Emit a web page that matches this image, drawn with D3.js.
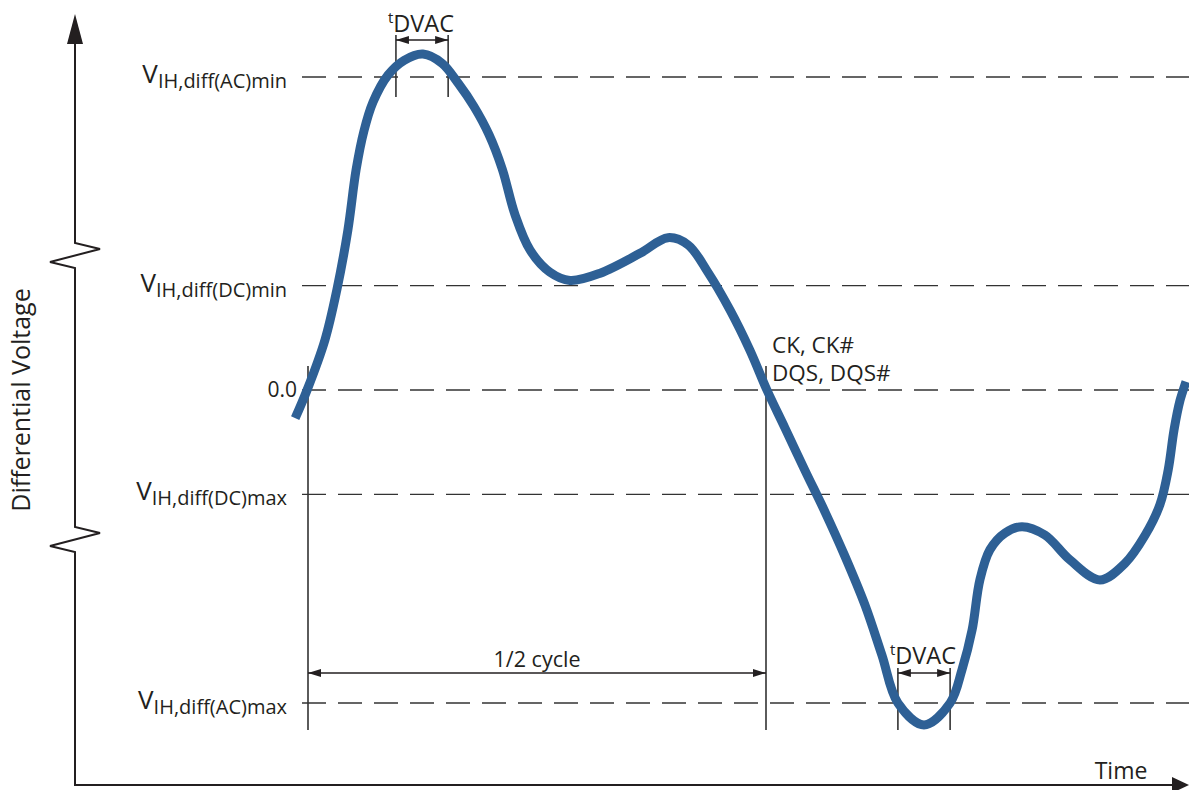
<!DOCTYPE html>
<html>
<head>
<meta charset="utf-8">
<script src="https://cdn.jsdelivr.net/npm/d3@7"></script>
<style>
  html, body { margin: 0; padding: 0; background: #fff; }
  text { font-family: "Open Sans", "Noto Sans", sans-serif; fill: #231f20; }
</style>
</head>
<body>
<div id="chart"></div>
<script>
// reference levels (differential voltage, arbitrary units)
const levelValues = [3, 1, 0, -1, -3];
const levelMain = ["V", "V", "0.0", "V", "V"];
const levelSub = ["IH,diff(AC)min", "IH,diff(DC)min", "", "IH,diff(DC)max", "IH,diff(AC)max"];

// signal waveform, time units (half cycle = 100)
const timeVals = [-2.8, -0.2, 3.7, 6.3, 8.7, 10.5, 12.2, 14.2, 17.5, 21.0, 25.1, 29.3, 32.8, 36.2,
  39.5, 42.4, 45.2, 48.5, 52.8, 57.2, 63.8, 72.5, 78.6, 83.0, 87.3, 92.1, 96.5, 100.2,
  104.1, 108.5, 112.9, 117.2, 121.6, 125.3, 128.8, 134.5, 140.2, 142.8, 145.0, 146.7,
  148.9, 152.2, 155.9, 160.9, 166.4, 172.9, 178.4, 182.8, 186.0, 187.8, 189.1, 190.4, 191.7];
const voltVals = [-0.27, 0, 0.48, 0.96, 1.53, 2.11, 2.48, 2.76, 3.02, 3.16, 3.22, 3.13, 2.94, 2.72,
  2.45, 2.12, 1.68, 1.34, 1.13, 1.05, 1.12, 1.31, 1.46, 1.39, 1.13, 0.77, 0.38, 0,
  -0.36, -0.77, -1.17, -1.59, -2.06, -2.54, -3.0, -3.21, -3.0, -2.68, -2.30, -1.82,
  -1.53, -1.37, -1.31, -1.39, -1.63, -1.82, -1.66, -1.39, -1.10, -0.77, -0.38, -0.10, 0.08];

// timing markers
const halfCycle = [0, 100];
const tdvacTop = [19.2, 30.6];
const tdvacBottom = [128.8, 140.2];

const W = 1189, H = 790;
const axisX = 75, axisY = 785;

const x = d3.scaleLinear().domain([0, 100]).range([308, 766]);
const y = d3.scaleLinear().domain([-3, 3]).range([703, 77]);

const svg = d3.select("#chart").append("svg")
  .attr("width", W)
  .attr("height", H);

const defs = svg.append("defs");
defs.append("marker")
  .attr("id", "arr")
  .attr("markerUnits", "userSpaceOnUse")
  .attr("markerWidth", 14).attr("markerHeight", 10)
  .attr("refX", 13).attr("refY", 4)
  .attr("orient", "auto-start-reverse")
  .append("path")
  .attr("d", "M0,0 L13,4 L0,8 Z")
  .attr("fill", "#231f20");

// dashed reference lines
svg.append("g").selectAll("line")
  .data(levelValues)
  .enter().append("line")
    .attr("x1", 302).attr("x2", W)
    .attr("y1", d => y(d)).attr("y2", d => y(d))
    .attr("stroke", "#333")
    .attr("stroke-width", 1.4)
    .attr("stroke-dasharray", "24,12");

// level labels
const lab = svg.append("g").selectAll("text")
  .data(levelValues)
  .enter().append("text")
    .attr("x", (d, i) => levelSub[i] ? 287 : 297)
    .attr("y", d => y(d))
    .attr("text-anchor", "end");
lab.append("tspan")
  .attr("font-size", (d, i) => levelSub[i] ? "26px" : "21px")
  .attr("dy", (d, i) => levelSub[i] ? 6 : 7)
  .text((d, i) => levelMain[i]);
lab.filter((d, i) => levelSub[i])
  .append("tspan")
  .attr("font-size", "20px")
  .attr("dy", 5)
  .text(d => levelSub[levelValues.indexOf(d)]);

// half-cycle vertical markers
svg.append("g").selectAll("line")
  .data(halfCycle)
  .enter().append("line")
    .attr("x1", d => x(d)).attr("x2", d => x(d))
    .attr("y1", 366).attr("y2", 730)
    .attr("stroke", "#333").attr("stroke-width", 1.6);

svg.append("line")
  .attr("x1", x(halfCycle[0])).attr("x2", x(halfCycle[1]))
  .attr("y1", 673).attr("y2", 673)
  .attr("stroke", "#231f20").attr("stroke-width", 1.4)
  .attr("marker-start", "url(#arr)")
  .attr("marker-end", "url(#arr)");

svg.append("text")
  .attr("x", (x(halfCycle[0]) + x(halfCycle[1])) / 2)
  .attr("y", 667)
  .attr("text-anchor", "middle")
  .attr("font-size", "21.5px")
  .text("1/2 cycle");

// tDVAC markers
function tdvac(pair, y1, y2, arrowY, textY) {
  const g = svg.append("g");
  g.selectAll("line.tick")
    .data(pair)
    .enter().append("line")
      .attr("class", "tick")
      .attr("x1", d => x(d)).attr("x2", d => x(d))
      .attr("y1", y1).attr("y2", y2)
      .attr("stroke", "#333").attr("stroke-width", 1.6);
  g.append("line")
    .attr("x1", x(pair[0])).attr("x2", x(pair[1]))
    .attr("y1", arrowY).attr("y2", arrowY)
    .attr("stroke", "#231f20").attr("stroke-width", 1.4)
    .attr("marker-start", "url(#arr)")
    .attr("marker-end", "url(#arr)");
  const t = g.append("text")
    .attr("x", x(pair[0]) - 8)
    .attr("y", textY);
  t.append("tspan").attr("font-size", "15px").attr("dy", -9).text("t");
  t.append("tspan").attr("font-size", "23.5px").attr("dy", 9).text("DVAC");
}
tdvac(tdvacTop, 35, 97, 40, 32);
tdvac(tdvacBottom, 668, 730, 673, 664);

// waveform
const line = d3.line()
  .x(d => x(d[0]))
  .y(d => y(d[1]))
  .curve(d3.curveCatmullRom.alpha(0.5));

svg.append("path")
  .datum(timeVals.map((t, i) => [t, voltVals[i]]))
  .attr("d", line)
  .attr("fill", "none")
  .attr("stroke", "#2e6095")
  .attr("stroke-width", 9)
  .attr("stroke-linejoin", "round");

// signal names
const sig = svg.append("text")
  .attr("font-size", "22.5px");
sig.append("tspan").attr("x", 772).attr("y", 353).text("CK, CK#");
sig.append("tspan").attr("x", 772).attr("y", 381).text("DQS, DQS#");

// axes with break marks
svg.append("path")
  .attr("d", `M${axisX},40 L${axisX},243 L100,249 L50,262 L${axisX},268 L${axisX},527 L100,533 L50,546 L${axisX},552 L${axisX},${axisY} L1176,${axisY}`)
  .attr("fill", "none")
  .attr("stroke", "#231f20")
  .attr("stroke-width", 2);

svg.append("path")
  .attr("d", `M${axisX},14 L${axisX + 8},44 L${axisX - 8},44 Z`)
  .attr("fill", "#231f20");
svg.append("path")
  .attr("d", `M${W},${axisY} L1172,${axisY - 8} L1172,${axisY + 8} Z`)
  .attr("fill", "#231f20");

svg.append("text")
  .attr("transform", "translate(30,400) rotate(-90)")
  .attr("text-anchor", "middle")
  .attr("font-size", "25px")
  .text("Differential Voltage");

svg.append("text")
  .attr("x", 1121)
  .attr("y", 779)
  .attr("text-anchor", "middle")
  .attr("font-size", "23px")
  .text("Time");
</script>
</body>
</html>
